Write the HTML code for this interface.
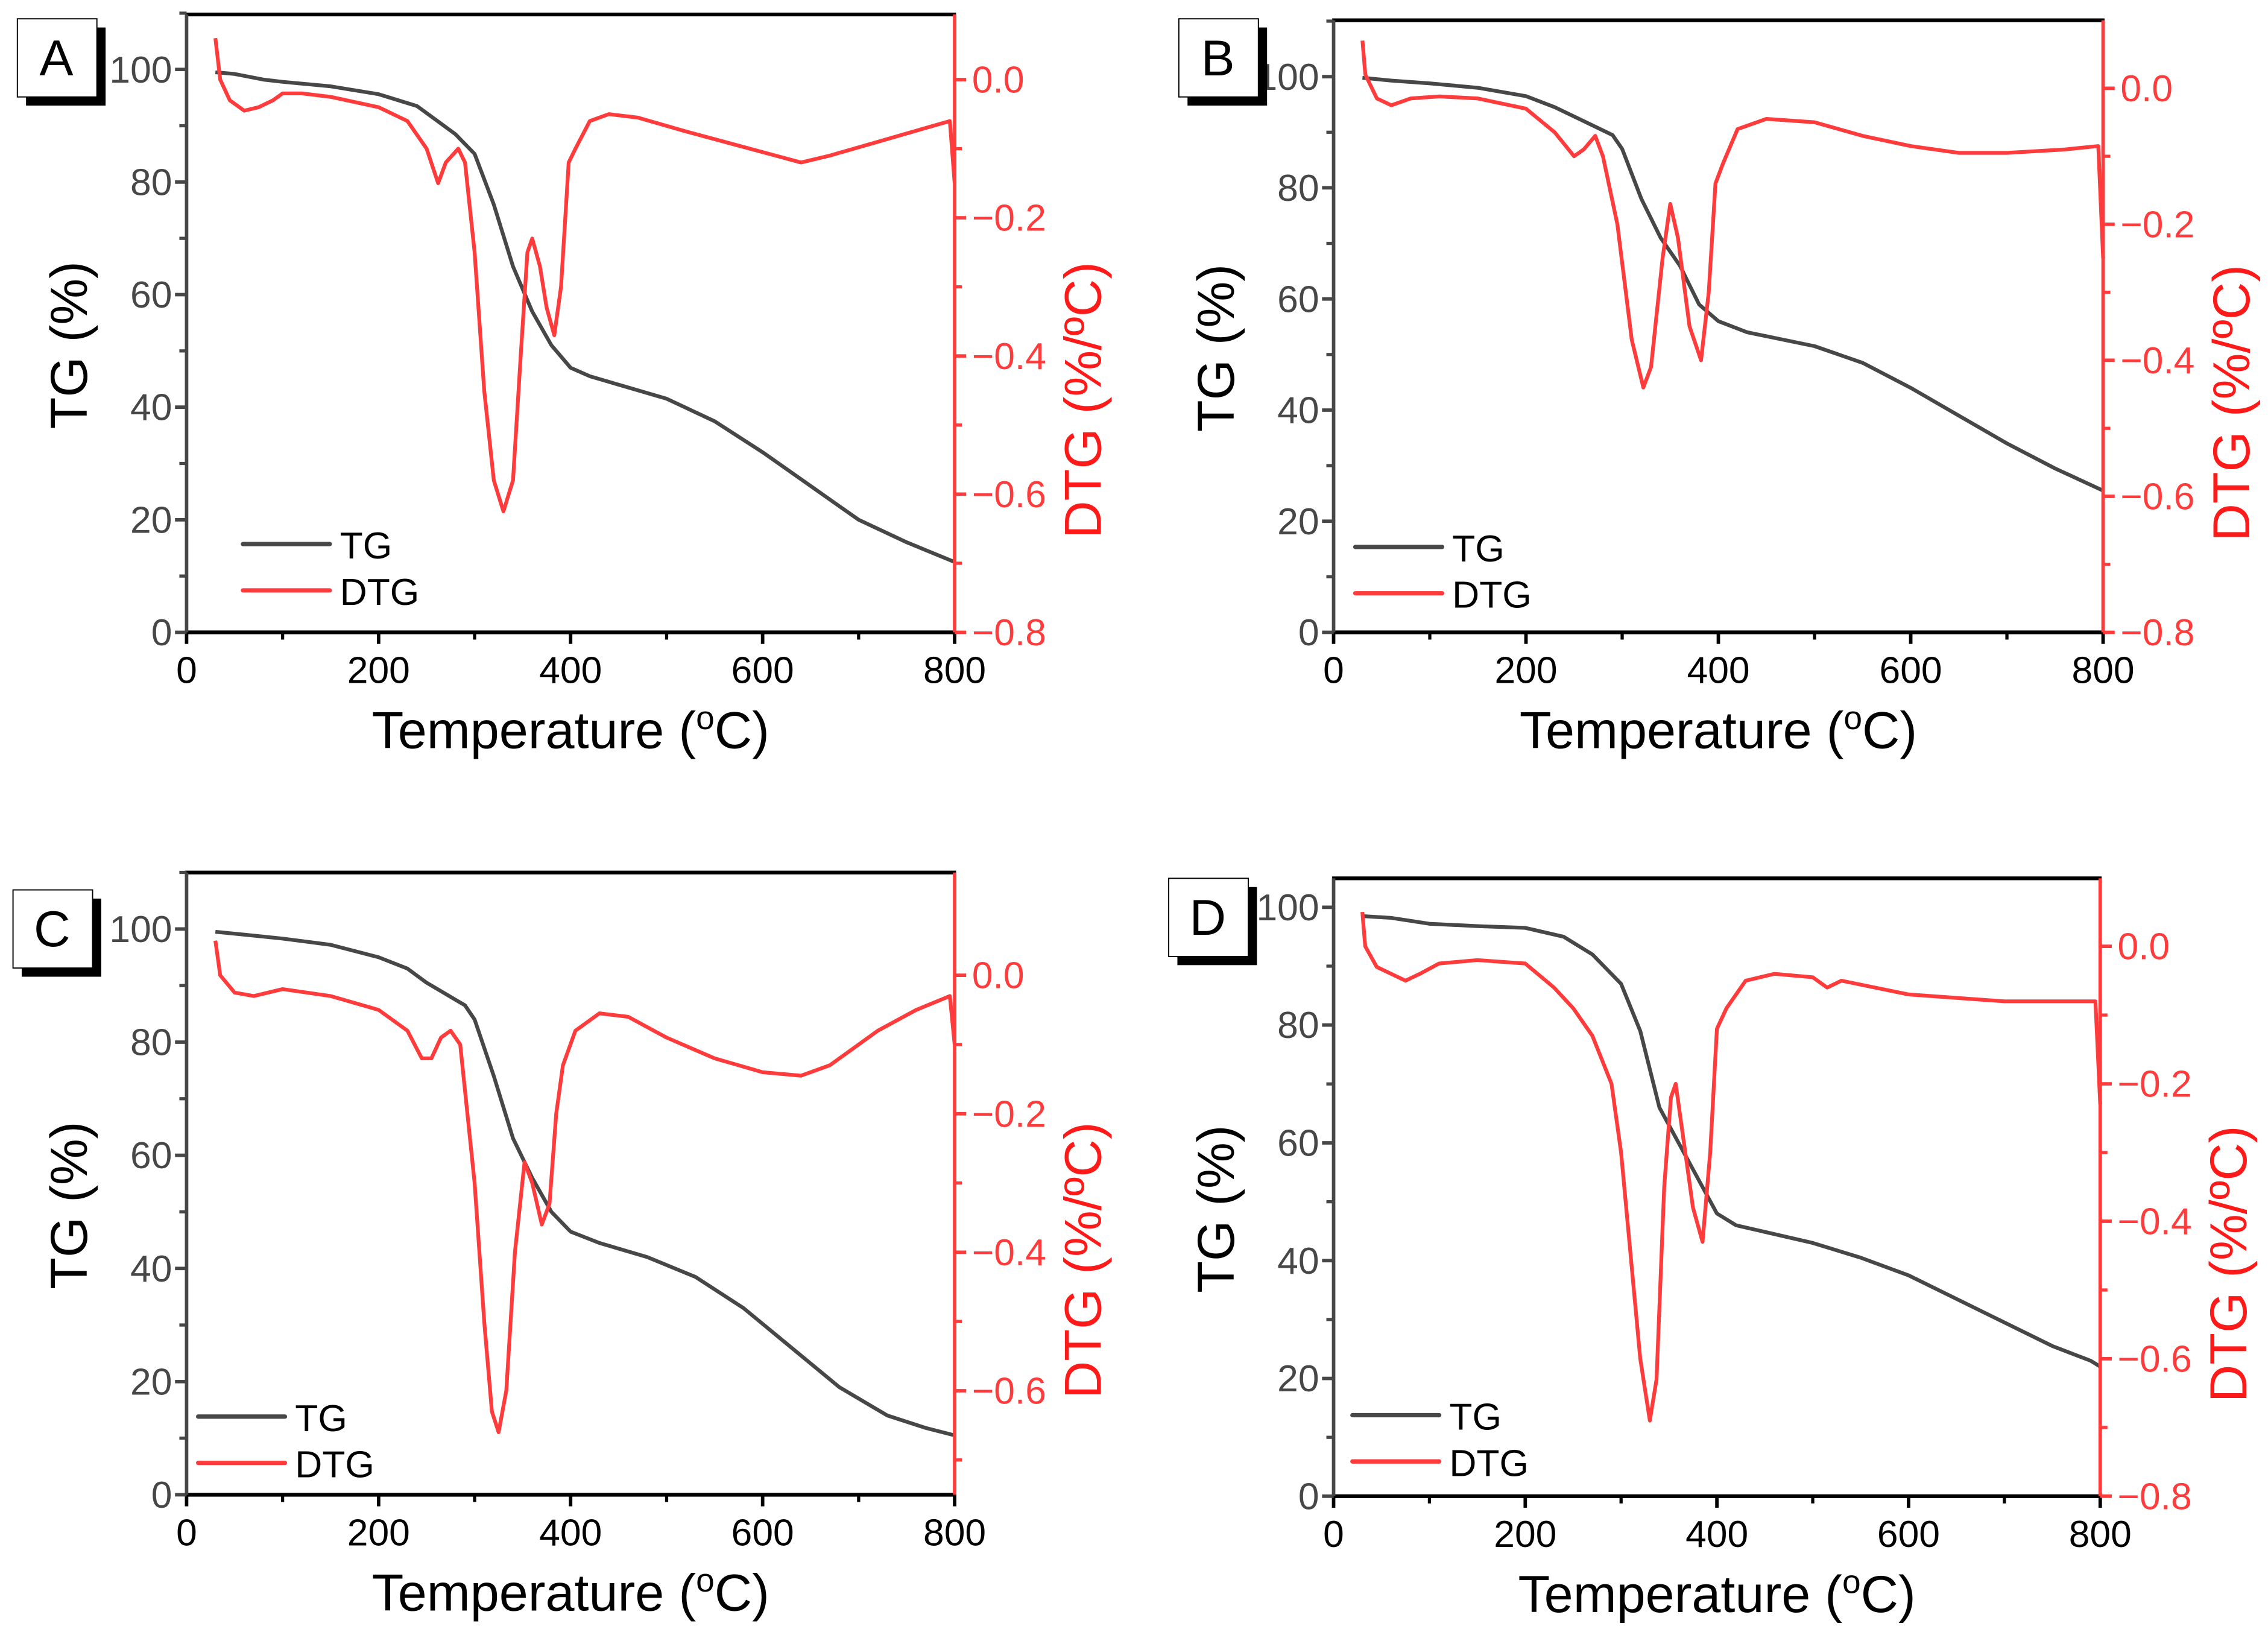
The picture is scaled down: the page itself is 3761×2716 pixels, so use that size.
<!DOCTYPE html>
<html><head><meta charset="utf-8"><style>
html,body{margin:0;padding:0;background:#fff;}
svg{display:block;}
text{font-family:"Liberation Sans",Arial,sans-serif;}
</style></head><body>
<svg id="fig" width="3761" height="2716" viewBox="0 0 1568 1132" preserveAspectRatio="none" xmlns="http://www.w3.org/2000/svg"></svg>
<script>
// ---- data (temperature °C, TG %, DTG %/°C) ----
const xTicks = [0, 200, 400, 600, 800];
const tgTicks = [0, 20, 40, 60, 80, 100];
const panelLetters = ["A", "B", "C", "D"];

const tgA_T = [30,50,80,100,150,200,240,260,280,300,320,340,360,380,400,420,450,500,550,600,650,700,750,800];
const tgA_V = [99.5,99.2,98.2,97.8,97,95.6,93.5,91,88.5,85,76,65,57,51,47,45.5,44,41.5,37.5,32,26,20,16,12.5];
const dtgA_T = [30,35,45,60,75,90,100,120,150,200,230,250,262,270,283,290,300,310,320,330,340,348,355,360,368,375,383,390,398,405,420,440,470,520,560,600,640,670,720,770,795,800];
const dtgA_V = [0.06,0.0,-0.03,-0.045,-0.04,-0.03,-0.02,-0.02,-0.025,-0.04,-0.06,-0.1,-0.15,-0.12,-0.1,-0.12,-0.25,-0.45,-0.58,-0.625,-0.58,-0.4,-0.25,-0.23,-0.27,-0.33,-0.37,-0.3,-0.12,-0.1,-0.06,-0.05,-0.055,-0.075,-0.09,-0.105,-0.12,-0.11,-0.09,-0.07,-0.06,-0.15];

const tgB_T = [30,60,100,150,200,230,260,290,300,320,340,360,380,400,430,500,550,600,650,700,750,800];
const tgB_V = [99.8,99.3,98.8,98,96.5,94.5,92,89.5,87,78,71,66,59,56,54,51.5,48.5,44,39,34,29.5,25.5];
const dtgB_T = [30,33,45,60,80,110,150,200,230,250,260,272,280,295,310,322,330,342,350,358,370,382,390,397,405,420,450,500,550,600,650,700,760,795,800];
const dtgB_V = [0.07,0.02,-0.015,-0.025,-0.015,-0.012,-0.015,-0.03,-0.065,-0.1,-0.09,-0.07,-0.1,-0.2,-0.37,-0.44,-0.41,-0.25,-0.17,-0.22,-0.35,-0.4,-0.3,-0.14,-0.11,-0.06,-0.045,-0.05,-0.07,-0.085,-0.095,-0.095,-0.09,-0.085,-0.25];

const tgC_T = [30,60,100,150,200,230,250,270,290,300,320,340,360,380,400,430,480,530,580,630,680,730,770,800];
const tgC_V = [99.5,99,98.3,97.2,95,93,90.5,88.5,86.5,84,74,63,56,50,46.5,44.5,42,38.5,33,26,19,14,11.8,10.5];
const dtgC_T = [30,35,50,70,100,150,200,230,245,255,265,275,285,300,310,318,325,333,342,352,360,370,378,385,392,405,430,460,500,550,600,640,670,720,760,795,800];
const dtgC_V = [0.05,0.0,-0.025,-0.03,-0.02,-0.03,-0.05,-0.08,-0.12,-0.12,-0.09,-0.08,-0.1,-0.3,-0.5,-0.63,-0.66,-0.6,-0.4,-0.27,-0.3,-0.36,-0.33,-0.2,-0.13,-0.08,-0.055,-0.06,-0.09,-0.12,-0.14,-0.145,-0.13,-0.08,-0.05,-0.03,-0.1];

const tgD_T = [30,60,100,150,200,240,270,300,320,340,360,380,400,420,460,500,550,600,650,700,750,790,800];
const tgD_V = [98.5,98.2,97.2,96.8,96.5,95,92,87,79,66,60,54,48,46,44.5,43,40.5,37.5,33.5,29.5,25.5,23,22];
const dtgD_T = [30,33,45,60,75,90,110,150,200,230,250,270,290,300,310,320,330,337,345,352,357,365,375,385,393,400,410,430,460,500,515,530,600,700,790,795,800];
const dtgD_V = [0.05,0.0,-0.03,-0.04,-0.05,-0.04,-0.025,-0.02,-0.025,-0.06,-0.09,-0.13,-0.2,-0.3,-0.45,-0.6,-0.69,-0.63,-0.35,-0.22,-0.2,-0.28,-0.38,-0.43,-0.3,-0.12,-0.09,-0.05,-0.04,-0.045,-0.06,-0.05,-0.07,-0.08,-0.08,-0.08,-0.23];

const tgSeries = [[tgA_T,tgA_V],[tgB_T,tgB_V],[tgC_T,tgC_V],[tgD_T,tgD_V]];
const dtgSeries = [[dtgA_T,dtgA_V],[dtgB_T,dtgB_V],[dtgC_T,dtgC_V],[dtgD_T,dtgD_V]];
const dtgTickSets = [[0,-0.2,-0.4,-0.6,-0.8],[0,-0.2,-0.4,-0.6,-0.8],[0,-0.2,-0.4,-0.6],[0,-0.2,-0.4,-0.6,-0.8]];

// ---- layout (thumbnail coordinate space) ----
const layouts = [
 {x0:129,x1:660,top:10,tg0:437,tg100:48,tgMax:110,d0:55,dStep:95.5,dMin:-0.8,box:[12,13],lg:[168,376]},
 {x0:922,x1:1454,top:14,tg0:437,tg100:53,tgMax:110,d0:61,dStep:94,dMin:-0.8,box:[815,13],lg:[937,378]},
 {x0:129,x1:660,top:603,tg0:1033,tg100:642,tgMax:110,d0:674,dStep:95.7,dMin:-0.7,box:[9,615],lg:[137,979]},
 {x0:922,x1:1452,top:607,tg0:1034,tg100:627,tgMax:105,d0:654,dStep:95,dMin:-0.8,box:[808,607],lg:[935,978]}
];
const NS="http://www.w3.org/2000/svg";
const svg=document.getElementById('fig');
function mk(tag,attrs,parent){const e=document.createElementNS(NS,tag);for(const k in attrs)e.setAttribute(k,attrs[k]);(parent||svg).appendChild(e);return e;}
const GRAY="#474747",RED="#ff3b3b";

layouts.forEach((L,i)=>{
  const g=mk('g',{});
  
  
  const xs=t=>L.x0+(L.x1-L.x0)*t/800;
  const ys=v=>L.tg0-(L.tg0-L.tg100)*v/100;
  const yd=v=>L.d0-v/0.2*L.dStep;
  const bottom=L.tg0;
  const [tT,tV]=tgSeries[i];
  const tg=mk('polyline',{points:tT.map((t,k)=>xs(t)+','+ys(tV[k])).join(' '),fill:'none',stroke:GRAY,'stroke-width':2.6,'stroke-linejoin':'round'},g);
  
  
  const [dT,dV]=dtgSeries[i];
  const dt=mk('polyline',{points:dT.map((t,k)=>xs(t)+','+yd(dV[k])).join(' '),fill:'none',stroke:RED,'stroke-width':2.6,'stroke-linejoin':'round'},g);
  
  
  mk('line',{x1:L.x0-1,y1:L.top,x2:L.x1+1,y2:L.top,stroke:'#000','stroke-width':2.6},g);
  mk('line',{x1:L.x0-1,y1:bottom,x2:L.x1+1,y2:bottom,stroke:'#000','stroke-width':2.6},g);
  mk('line',{x1:L.x0,y1:L.top,x2:L.x0,y2:bottom,stroke:GRAY,'stroke-width':2.4},g);
  mk('line',{x1:L.x1,y1:L.top,x2:L.x1,y2:bottom,stroke:RED,'stroke-width':2.4},g);
  xTicks.forEach(t=>{
    mk('line',{x1:xs(t),y1:bottom,x2:xs(t),y2:bottom+8,stroke:'#000','stroke-width':2.4},g);
    const tx=mk('text',{x:xs(t),y:bottom+35,'font-size':26,'text-anchor':'middle',fill:'#000'},g);tx.textContent=t;
    
    
  });
  for(let t=100;t<800;t+=200)mk('line',{x1:xs(t),y1:bottom,x2:xs(t),y2:bottom+5,stroke:'#000','stroke-width':2.2},g);
  tgTicks.forEach(v=>{
    mk('line',{x1:L.x0-8,y1:ys(v),x2:L.x0,y2:ys(v),stroke:GRAY,'stroke-width':2.4},g);
    const tx=mk('text',{x:L.x0-10,y:ys(v)+9,'font-size':26,'text-anchor':'end',fill:GRAY},g);tx.textContent=v;
    
    
  });
  for(let v=10;v<=L.tgMax;v+=20)mk('line',{x1:L.x0-5,y1:ys(v),x2:L.x0,y2:ys(v),stroke:GRAY,'stroke-width':2.2},g);
  dtgTickSets[i].forEach(v=>{
    mk('line',{x1:L.x1,y1:yd(v),x2:L.x1+8,y2:yd(v),stroke:RED,'stroke-width':2.4},g);
    const tx=mk('text',{x:L.x1+12,y:yd(v)+9,'font-size':26,fill:RED},g);tx.textContent=(v===0?'0.0':'\u2212'+Math.abs(v).toFixed(1));
    
    
  });
  for(let v=-0.1;v>L.dMin-0.05;v-=0.2)mk('line',{x1:L.x1,y1:yd(v),x2:L.x1+5,y2:yd(v),stroke:RED,'stroke-width':2.2},g);
  const mid=(L.top+bottom)/2;
  const yt=mk('text',{transform:`translate(${L.x0-69},${mid+15}) rotate(-90)`,'font-size':36,'text-anchor':'middle',fill:'#000'},g);yt.textContent='TG (%)';
  
  
  const yt2=mk('text',{transform:`translate(${L.x1+101},${mid+53}) rotate(-90)`,'font-size':36,'text-anchor':'middle',fill:'#ff1a1a'},g);yt2.textContent='DTG (%/\u00BAC)';
  
  
  const xt=mk('text',{x:(L.x0+L.x1)/2,y:bottom+80,'font-size':36,'text-anchor':'middle',fill:'#000'},g);xt.innerHTML='Temperature (<tspan dy="-13" font-size="23">o</tspan><tspan dy="13">C)</tspan>';
  
  
  const [lx,ly]=L.lg;
  mk('line',{x1:lx,y1:ly,x2:lx+60,y2:ly,stroke:GRAY,'stroke-width':3,'stroke-linecap':'round'},g);
  const l1=mk('text',{x:lx+67,y:ly+10,'font-size':26,fill:'#000'},g);l1.textContent='TG';
  
  
  mk('line',{x1:lx,y1:ly+32,x2:lx+60,y2:ly+32,stroke:RED,'stroke-width':3,'stroke-linecap':'round'},g);
  const l2=mk('text',{x:lx+67,y:ly+42,'font-size':26,fill:'#000'},g);l2.textContent='DTG';
  
  
  const [bx,by]=L.box;
  mk('rect',{x:bx+6,y:by+6,width:55,height:54,fill:'#000'},g);
  mk('rect',{x:bx,y:by,width:55,height:54,fill:'#fff',stroke:'#000','stroke-width':0.8},g);
  const lb=mk('text',{x:bx+27,y:by+39,'font-size':35,'text-anchor':'middle',fill:'#000'},g);lb.textContent=panelLetters[i];
  
  
});
</script>
</body></html>
